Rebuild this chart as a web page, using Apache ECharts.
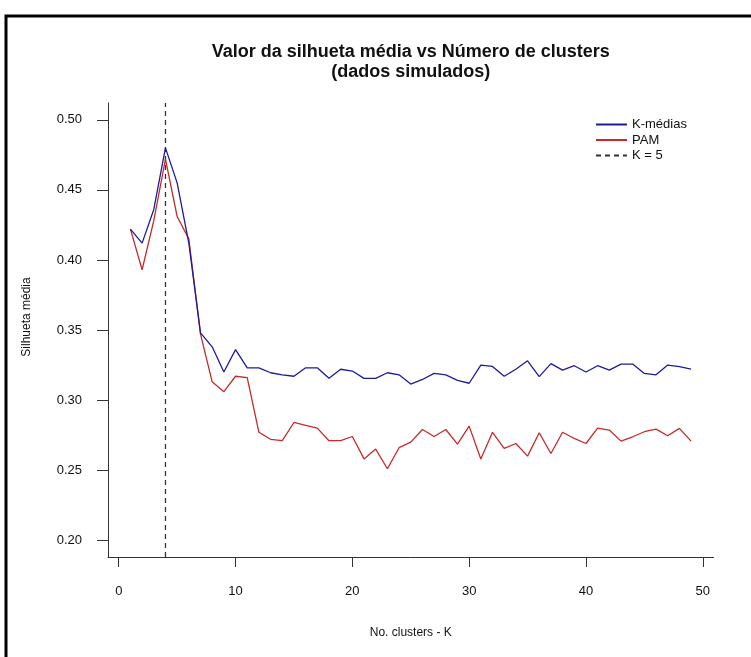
<!DOCTYPE html>
<html>
<head>
<meta charset="utf-8">
<script src="https://cdn.jsdelivr.net/npm/echarts@6/dist/echarts.min.js"></script>
<style>
html,body{margin:0;padding:0;background:#fff;}
#chart{width:751px;height:657px;}
</style>
</head>
<body>
<div id="chart"></div>
<script>
// ---- data ----
var clustersK = [1,2,3,4,5,6,7,8,9,10,11,12,13,14,15,16,17,18,19,20,21,22,23,24,25,26,27,28,29,30,31,32,33,34,35,36,37,38,39,40,41,42,43,44,45,46,47,48,49];
var kmedias = [0.422,0.412,0.436,0.480,0.455,0.412,0.348,0.338,0.320,0.336,
               0.323,0.323,0.3195,0.318,0.317,0.323,0.323,0.3155,0.322,0.3207,
               0.3155,0.3155,0.3195,0.318,0.3114,0.3147,0.319,0.318,0.314,0.312,
               0.325,0.324,0.317,0.322,0.328,0.3167,0.326,0.3214,0.3245,0.320,
               0.3245,0.3214,0.3257,0.3257,0.319,0.318,0.325,0.3238,0.322];
var pam = [0.422,0.393,0.428,0.472,0.431,0.415,0.347,0.313,0.306,0.317,
           0.316,0.277,0.272,0.271,0.284,0.282,0.280,0.271,0.271,0.274,
           0.258,0.265,0.251,0.266,0.270,0.279,0.274,0.279,0.2686,0.2814,
           0.258,0.277,0.2655,0.269,0.260,0.2767,0.2619,0.277,0.2726,0.269,
           0.280,0.2786,0.2707,0.2738,0.2774,0.2793,0.2745,0.2798,0.2707];
var kRef = 4;
var xTicks = [0,10,20,30,40,50];
var yTicks = [0.20,0.25,0.30,0.35,0.40,0.45,0.50];
var xRange = [-0.92, 50.92];
var yRange = [0.188, 0.512];

var seriesNames = ['K-médias','PAM','K = 5'];
var titleLines = ['Valor da silhueta média vs Número de clusters', '(dados simulados)'];

function pairs(xs, ys){ return xs.map(function(x,i){ return [x, ys[i]]; }); }

var font = 'Liberation Sans, Arial, sans-serif';
var chart = echarts.init(document.getElementById('chart'), null, {renderer:'canvas'});
var option = {
  animation: false,
  backgroundColor: '#fff',
  grid: {left:108, top:103, width:605.5, height:454, containLabel:false},
  legend: {
    data: seriesNames,
    orient: 'vertical',
    left: 590, top: 113,
    itemWidth: 31, itemHeight: 14, itemGap: 2.5,
    itemStyle: {opacity: 0, borderWidth: 0},
    textStyle: {fontFamily: font, fontSize: 13, color: '#111'}
  },
  xAxis: {
    type: 'value', min: xRange[0], max: xRange[1],
    name: 'No. clusters - K', nameLocation: 'middle', nameGap: 70,
    nameTextStyle: {fontFamily: font, fontSize: 12, color: '#111'},
    axisLine: {show: true, onZero: false, lineStyle: {color: '#333', width: 1}},
    axisTick: {show: true, length: 10, customValues: xTicks, lineStyle: {color: '#333'}},
    axisLabel: {customValues: xTicks, margin: 28, fontFamily: font, fontSize: 13, color: '#111'},
    splitLine: {show: false}
  },
  yAxis: {
    type: 'value', min: yRange[0], max: yRange[1],
    name: 'Silhueta média', nameLocation: 'middle', nameGap: 75,
    nameTextStyle: {fontFamily: font, fontSize: 12, color: '#111', padding: [0, 0, 0, 26]},
    axisLine: {show: true, onZero: false, lineStyle: {color: '#333', width: 1}},
    axisTick: {show: true, length: 11, customValues: yTicks, lineStyle: {color: '#333'}},
    axisLabel: {customValues: yTicks, margin: 26, fontFamily: font, fontSize: 13, color: '#111',
      formatter: function(v){ return v.toFixed(2); }},
    splitLine: {show: false}
  },
  series: [
    {name: seriesNames[0], type: 'line', data: pairs(clustersK, kmedias), symbol: 'none',
     lineStyle: {color: '#1c1c9a', width: 1.3}, itemStyle: {color: '#1c1c9a'}, z: 3},
    {name: seriesNames[1], type: 'line', data: pairs(clustersK, pam), symbol: 'none',
     lineStyle: {color: '#c62a2a', width: 1.3}, itemStyle: {color: '#c62a2a'}, z: 2},
    {name: seriesNames[2], type: 'line', data: [[kRef, yRange[0]], [kRef, yRange[1]]], symbol: 'none',
     lineStyle: {color: '#333', width: 1.3, type: [5,4]}, itemStyle: {color: '#333'}, z: 1}
  ],
  graphic: [
    {type: 'text', x: 410.75, y: 52, silent: true,
     style: {text: titleLines[0], textAlign: 'center', textVerticalAlign: 'middle',
       font: 'bold 18px ' + font, fill: '#111'}},
    {type: 'text', x: 410.75, y: 72, silent: true,
     style: {text: titleLines[1], textAlign: 'center', textVerticalAlign: 'middle',
       font: 'bold 18px ' + font, fill: '#111'}},
    {type: 'polyline', silent: true, shape: {points: [[6, 657], [6, 16], [751, 16]]},
     style: {stroke: '#000', lineWidth: 3, fill: null}}
  ]
};
chart.setOption(option);
</script>
</body>
</html>
